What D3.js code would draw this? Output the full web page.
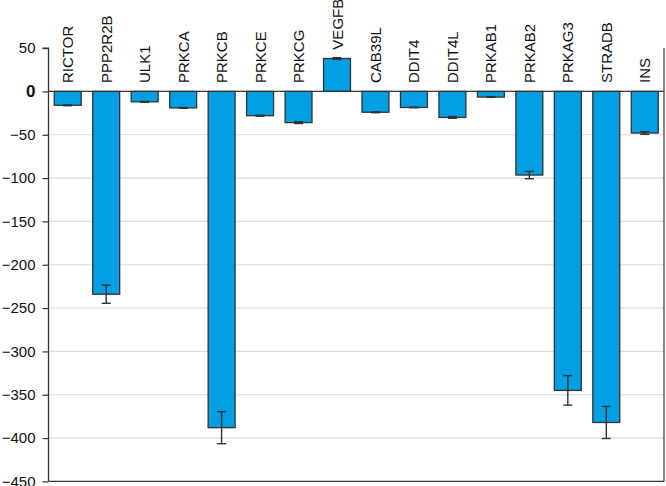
<!DOCTYPE html>
<html>
<head>
<meta charset="utf-8">
<script src="https://cdn.jsdelivr.net/npm/d3@7"></script>
<style>
  html, body { margin: 0; padding: 0; background: #fff; }
  svg { display: block; }
  text { font-family: "Liberation Sans", Arial, sans-serif; fill: #111; }
</style>
</head>
<body>
<svg id="chart" width="666" height="486"></svg>
<script>
const categories = ["RICTOR","PPP2R2B","ULK1","PRKCA","PRKCB","PRKCE","PRKCG","VEGFB","CAB39L","DDIT4","DDIT4L","PRKAB1","PRKAB2","PRKAG3","STRADB","INS"];
const values = [-16, -234, -12, -19, -388, -28, -36, 38, -24, -18.5, -30, -6.5, -96.5, -345, -382, -48];
const errors = [0.5, 10.5, 0.5, 0.5, 18.5, 0.6, 1, 1, 0.5, 0.3, 1, 0.3, 4.2, 17, 18.5, 1.5];
const yTicks = [50, 0, -50, -100, -150, -200, -250, -300, -350, -400, -450];

const svg = d3.select("#chart");
const pLeft = 48.5, pRight = 664, pTop = 48.1, pBottom = 481.4;

const x = d3.scaleBand().domain(categories).range([pLeft, pRight]).paddingInner(0.3).paddingOuter(0.15);
const y = d3.scaleLinear().domain([-450, 50]).range([pBottom, pTop]);

// gridlines
svg.append("g").selectAll("line")
  .data(yTicks.filter(t => t !== 0 && t !== 50 && t !== -450))
  .join("line")
  .attr("x1", pLeft).attr("x2", pRight)
  .attr("y1", d => y(d)).attr("y2", d => y(d))
  .attr("stroke", "#dcdcdc").attr("stroke-width", 1.2);

// bars
svg.append("g").selectAll("rect")
  .data(categories)
  .join("rect")
  .attr("x", d => x(d))
  .attr("width", x.bandwidth())
  .attr("y", (d, i) => y(Math.max(0, values[i])))
  .attr("height", (d, i) => Math.abs(y(values[i]) - y(0)))
  .attr("fill", "#009fe3")
  .attr("stroke", "#333")
  .attr("stroke-width", 1.3);

// error bars
const eg = svg.append("g").attr("stroke", "#333").attr("stroke-width", 1.4);
categories.forEach((c, i) => {
  const cx = x(c) + x.bandwidth() / 2;
  const y1 = y(values[i] - errors[i]), y2 = y(values[i] + errors[i]);
  eg.append("line").attr("x1", cx).attr("x2", cx).attr("y1", y1).attr("y2", y2);
  eg.append("line").attr("x1", cx - 4.5).attr("x2", cx + 4.5).attr("y1", y1).attr("y2", y1);
  eg.append("line").attr("x1", cx - 4.5).attr("x2", cx + 4.5).attr("y1", y2).attr("y2", y2);
});

// zero line and small category ticks
svg.append("line").attr("x1", pLeft).attr("x2", pRight).attr("y1", y(0)).attr("y2", y(0))
  .attr("stroke", "#333").attr("stroke-width", 1.3);
svg.append("g").selectAll("line")
  .data(categories)
  .join("line")
  .attr("x1", d => x(d) + x.bandwidth() + x.step() * 0.15)
  .attr("x2", d => x(d) + x.bandwidth() + x.step() * 0.15)
  .attr("y1", y(0) - 2).attr("y2", y(0))
  .attr("stroke", "#bbb").attr("stroke-width", 1);

// y axis
const yAxis = d3.axisLeft(y).tickValues(yTicks).tickSize(6).tickPadding(7);
const ga = svg.append("g").attr("transform", `translate(${pLeft},0)`).call(yAxis);
ga.select(".domain").attr("stroke", "#333").attr("stroke-width", 1.3).attr("d", `M-6,${pTop}H0V${pBottom}`);
ga.selectAll(".tick line").attr("stroke", "#333").attr("stroke-width", 1.2);
ga.selectAll(".tick text")
  .style("font-family", "'Liberation Sans', Arial, sans-serif")
  .attr("fill", "#111")
  .style("font-weight", d => d === 0 ? "bold" : "normal")
  .style("font-size", d => d === 0 ? "17px" : "15px");

// bottom and right frame
svg.append("line").attr("x1", pLeft).attr("x2", pRight).attr("y1", pBottom).attr("y2", pBottom)
  .attr("stroke", "#333").attr("stroke-width", 1.3);
svg.append("line").attr("x1", pRight).attr("x2", pRight).attr("y1", pTop).attr("y2", pBottom)
  .attr("stroke", "#444").attr("stroke-width", 1.3);

// category labels
svg.append("g").selectAll("text")
  .data(categories)
  .join("text")
  .attr("transform", (d, i) => `translate(${x(d) + x.bandwidth() / 2 + 5.5},${Math.min(83, y(values[i] + errors[i]) - 8)}) rotate(-90)`)
  .attr("text-anchor", "start")
  .style("font-size", "15px")
  .text(d => d);
</script>
</body>
</html>
